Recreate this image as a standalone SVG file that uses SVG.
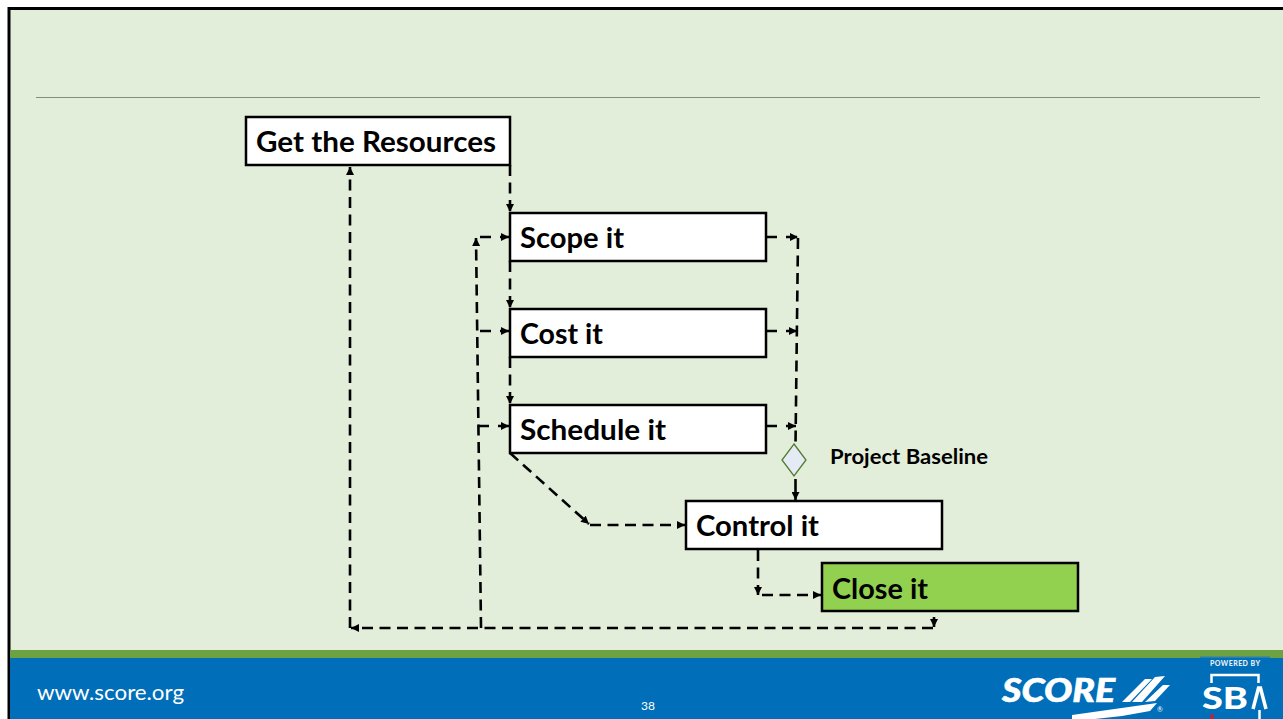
<svg xmlns="http://www.w3.org/2000/svg" width="1283" height="719" viewBox="0 0 1283 719">
<style>
.box{fill:#fff;stroke:#000;stroke-width:2.5}
.t{font-family:Lato,Carlito,"Open Sans",sans-serif;font-weight:700;font-size:28px;fill:#000}
.c{fill:none;stroke:#000;stroke-width:2.6;stroke-dasharray:11 6.500}
.s{fill:none;stroke:#000;stroke-width:2.6;stroke-dasharray:11 9}
</style>
<defs>
<marker id="a" markerUnits="userSpaceOnUse" markerWidth="9" markerHeight="8" refX="8" refY="4" orient="auto"><path d="M0 0L8 4L0 8Z" fill="#000"/></marker>
</defs>
<rect width="1283" height="719" fill="#fff"/>
<rect x="9" y="8.500" width="1274" height="710" fill="#e2eed9" stroke="none"/>
<path d="M9 719V8.500H1283" fill="none" stroke="#000" stroke-width="3"/>
<path d="M36 97.500H1260" stroke="#7f8f7f" stroke-width="1"/>
<rect id="footer-green" x="10" y="650" width="1273" height="8" fill="#6da242"/>
<rect id="footer-blue" x="10" y="658" width="1273" height="61" fill="#006eb9"/>
<g id="connectors">
<path class="c" marker-end="url(#a)" d="M510 165V212"/>
<path class="c" marker-end="url(#a)" d="M510 261V308"/>
<path class="c" marker-end="url(#a)" d="M510 357V404"/>
<path class="s" marker-end="url(#a)" d="M766 237H798"/>
<path class="s" marker-end="url(#a)" d="M766 331H797"/>
<path class="s" marker-end="url(#a)" d="M766 426H796"/>
<path class="c" d="M798 238L795.500 445"/>
<path d="M795.500 479V500" fill="none" stroke="#000" stroke-width="2.600" marker-end="url(#a)"/>
<path class="c" marker-end="url(#a)" d="M481 628L476 238"/>
<path class="s" marker-end="url(#a)" d="M480 237H509"/>
<path class="s" marker-end="url(#a)" d="M480 331H509"/>
<path class="s" marker-end="url(#a)" d="M478 426H509"/>
<path class="c" marker-end="url(#a)" d="M510 453L589 524"/>
<path class="c" marker-end="url(#a)" d="M590 525H685"/>
<path class="c" marker-end="url(#a)" d="M758 550V595"/>
<path class="c" marker-end="url(#a)" d="M762 595H821"/>
<path class="c" marker-end="url(#a)" d="M350 628V167"/>
<path class="c" marker-end="url(#a)" d="M933 628H351"/>
<path d="M934 617V627" fill="none" stroke="#000" stroke-width="2.600" marker-end="url(#a)"/>
</g>
<g id="n-get"><rect class="box" x="246" y="117" width="264" height="48"/><text class="t" x="256" y="152" textLength="240" lengthAdjust="spacingAndGlyphs">Get the Resources</text></g>
<g id="n-scope"><rect class="box" x="510" y="213" width="256" height="48"/><text class="t" x="520" y="248" textLength="104" lengthAdjust="spacingAndGlyphs">Scope it</text></g>
<g id="n-cost"><rect class="box" x="510" y="309" width="256" height="48"/><text class="t" x="520" y="344" textLength="83" lengthAdjust="spacingAndGlyphs">Cost it</text></g>
<g id="n-schedule"><rect class="box" x="510" y="405" width="256" height="48"/><text class="t" x="520" y="440" textLength="146" lengthAdjust="spacingAndGlyphs">Schedule it</text></g>
<g id="n-control"><rect class="box" x="686" y="501" width="256" height="48"/><text class="t" x="696" y="536" textLength="123" lengthAdjust="spacingAndGlyphs">Control it</text></g>
<g id="n-close"><rect class="box" x="822" y="563" width="256" height="48" style="fill:#92d050"/><text class="t" x="832" y="599" textLength="96" lengthAdjust="spacingAndGlyphs">Close it</text></g>
<g id="n-baseline"><path d="M794 444L806 460L794 476L782 460Z" fill="#e4ebf5" stroke="#53792f" stroke-width="1.300"/></g>
<text x="830" y="464" font-family="Lato,Carlito,sans-serif" font-weight="700" font-size="20" textLength="158" lengthAdjust="spacingAndGlyphs">Project Baseline</text>
<text x="37" y="700" font-family="Lato,sans-serif" font-size="21.500" fill="#fff" textLength="147" lengthAdjust="spacingAndGlyphs">www.score.org</text>
<text x="648" y="710" text-anchor="middle" font-family="Lato,sans-serif" font-size="12" fill="#fff">38</text>
<g id="score-logo" fill="#fff">
<text x="1002" y="702" font-family="Lato,sans-serif" font-weight="900" font-style="italic" font-size="33" textLength="113" lengthAdjust="spacingAndGlyphs" stroke="#fff" stroke-width=".6">SCORE</text>
<path d="M1122 702L1145 679H1152L1130 702ZM1132 702L1155 677L1165 676L1142 702ZM1145 702L1163 685H1170L1155 701Z"/>
<path d="M1072 715L1157 703L1150 711L1122 716L1095 719H1072Z"/>
<text x="1157" y="712" font-family="Lato,sans-serif" font-size="7">®</text>
</g>
<g id="sba-logo">
<rect x="1200" y="657" width="70" height="62" fill="#006eb9"/>
<rect x="1200" y="656.500" width="70" height="1.500" fill="#2a7fb0"/>
<text x="1210" y="666" font-family="Lato,sans-serif" font-weight="900" font-size="7" fill="#e9eef5" textLength="50" lengthAdjust="spacing">POWERED BY</text>
<path d="M1211.500 683V675H1258.500V683" fill="none" stroke="#fff" stroke-width="2.500"/>
<text x="1202" y="709" font-family="Lato,sans-serif" font-weight="900" font-size="30" fill="#fff" textLength="46" lengthAdjust="spacingAndGlyphs">SB</text>
<path d="M1253 709L1258.500 688H1260.500L1266 709" fill="none" stroke="#fff" stroke-width="3.500"/>
<path d="M1259.500 710V719" stroke="#fff" stroke-width="2.500"/>
<path d="M1212 714V719" stroke="#c8202f" stroke-width="3"/>
</g>
</svg>
